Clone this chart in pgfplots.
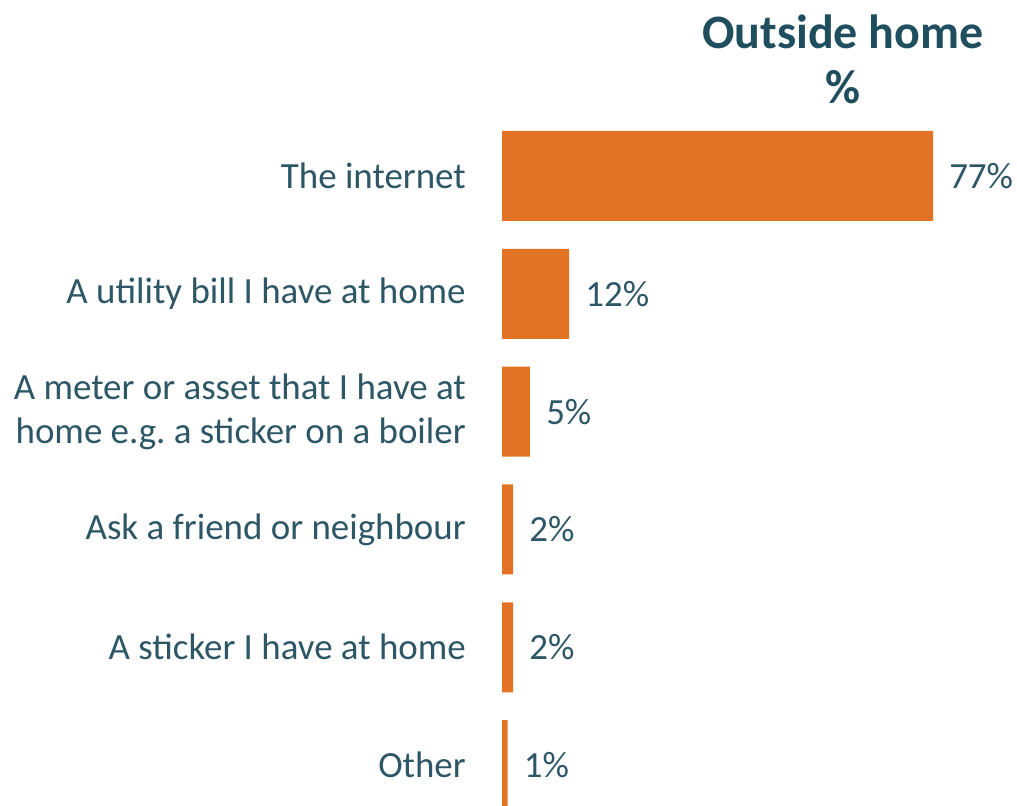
\documentclass[border=0pt]{standalone}
\usepackage{pgfplots}
\pgfplotsset{compat=1.18}
\usepackage{fontspec}
\setmainfont{Carlito}
\definecolor{barorange}{HTML}{E37324}
\definecolor{titleblue}{HTML}{1F4E5F}
\definecolor{labeltxt}{HTML}{2D5766}
\begin{document}
\begin{tikzpicture}
\useasboundingbox (0pt,0pt) rectangle (762.75pt,604.5pt);
\begin{axis}[
  at={(376.5pt,-13.5pt)}, anchor=south west,
  scale only axis,
  width=323.25pt, height=530.25pt,
  xbar, bar width=67.5pt,
  xmin=0, xmax=77,
  ymin=-0.5, ymax=5.5,
  y dir=reverse,
  ytick={0,1,2,3,4,5},
  yticklabels={The internet, A utility bill I have at home, {A meter or asset that I have at\\home e.g.\ a sticker on a boiler}, Ask a friend or neighbour, A sticker I have at home, Other},
  yticklabel style={align=right, font=\fontsize{27.7}{33}\selectfont, text=labeltxt, anchor=east, inner sep=0pt, xshift=-27pt},
  xtick=\empty,
  major tick length=0pt,
  axis line style={draw=none},
  clip=false,
  /pgf/number format/assume math mode=true,
  nodes near coords={\pgfmathprintnumber{\pgfplotspointmeta}\%},
  nodes near coords style={anchor=west, inner sep=0pt, xshift=12pt, font=\fontsize{27.7}{33}\selectfont, text=labeltxt},
  point meta=x,
  title={\textbf{Outside home}\\\textbf{\%}},
  title style={at={(rel axis cs:0.791,1.07)}, anchor=center, align=center, font=\fontsize{36}{41}\selectfont, text=titleblue, inner sep=0pt},
]
\addplot[fill=barorange, draw=none] coordinates {(77,0) (12,1) (5,2) (2,3) (2,4) (1,5)};
\end{axis}
\end{tikzpicture}
\end{document}
